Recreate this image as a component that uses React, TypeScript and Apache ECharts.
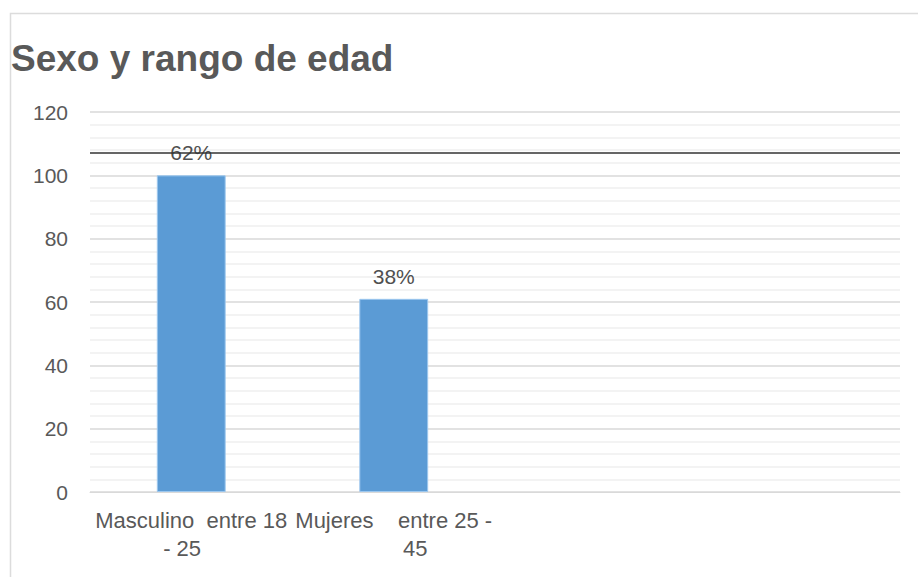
import React, { useEffect, useRef } from "react";
import * as echarts from "echarts";

const categories = ["Masculino  entre 18\n- 25   ", "Mujeres    entre 25 -\n       45", "", ""];
const values = [100, 61, null, null];
const valueLabels = ["62%", "38%", "", ""];
const referenceLine = 107;
const yMin = 0;
const yMax = 120;
const yInterval = 20;
const title = "Sexo y rango de edad";

const FONT = "'Liberation Sans', Arial, sans-serif";

export default function App() {
  const ref = useRef<HTMLDivElement>(null);
  useEffect(() => {
    if (!ref.current) return;
    const chart = echarts.init(ref.current, null, { renderer: "svg" });
    chart.setOption({
      animation: false,
      backgroundColor: "#ffffff",
      title: {
        text: title,
        left: 6,
        top: 35,
        textStyle: { fontFamily: FONT, fontSize: 37, fontWeight: "bold", color: "#595959" },
      },
      graphic: [
        {
          type: "rect",
          shape: { x: 10.5, y: 13.5, width: 1000, height: 700 },
          style: { fill: "none", stroke: "#dcdcdc", lineWidth: 1.5 },
          silent: true,
          z: -1,
        },
      ],
      grid: { left: 90, right: 18, top: 112, bottom: 85, containLabel: false },
      xAxis: {
        type: "category",
        data: categories,
        axisLine: { show: true, lineStyle: { color: "#d9d9d9", width: 1 } },
        axisTick: { show: false },
        axisLabel: {
          interval: 0,
          margin: 14,
          fontFamily: FONT,
          fontSize: 22,
          lineHeight: 28,
          color: "#595959",
        },
      },
      yAxis: {
        type: "value",
        min: yMin,
        max: yMax,
        interval: yInterval,
        axisLine: { show: false },
        axisTick: { show: false },
        axisLabel: { margin: 22, fontFamily: FONT, fontSize: 21, color: "#595959" },
        splitLine: { show: true, lineStyle: { color: "#d9d9d9", width: 1.5 } },
        minorTick: { show: false, splitNumber: 5 },
        minorSplitLine: { show: true, lineStyle: { color: "#efefef", width: 1.5 } },
      },
      series: [
        {
          type: "bar",
          data: values,
          barWidth: "34%",
          itemStyle: { color: "#5b9bd5", borderColor: "#9cc7ee", borderWidth: 1 },
          label: {
            show: true,
            position: "top",
            distance: 12,
            fontFamily: FONT,
            fontSize: 21,
            color: "#505050",
            formatter: (p: any) => valueLabels[p.dataIndex],
          },
          markLine: {
            silent: true,
            symbol: ["none", "none"],
            label: { show: false },
            lineStyle: { color: "#333333", width: 1.5, type: "solid" },
            data: [{ yAxis: referenceLine }],
          },
        },
      ],
    });
    return () => chart.dispose();
  }, []);
  return (
    <div
      ref={ref}
      style={{ position: "fixed", left: 0, top: 0, width: 918, height: 577 }}
    />
  );
}
